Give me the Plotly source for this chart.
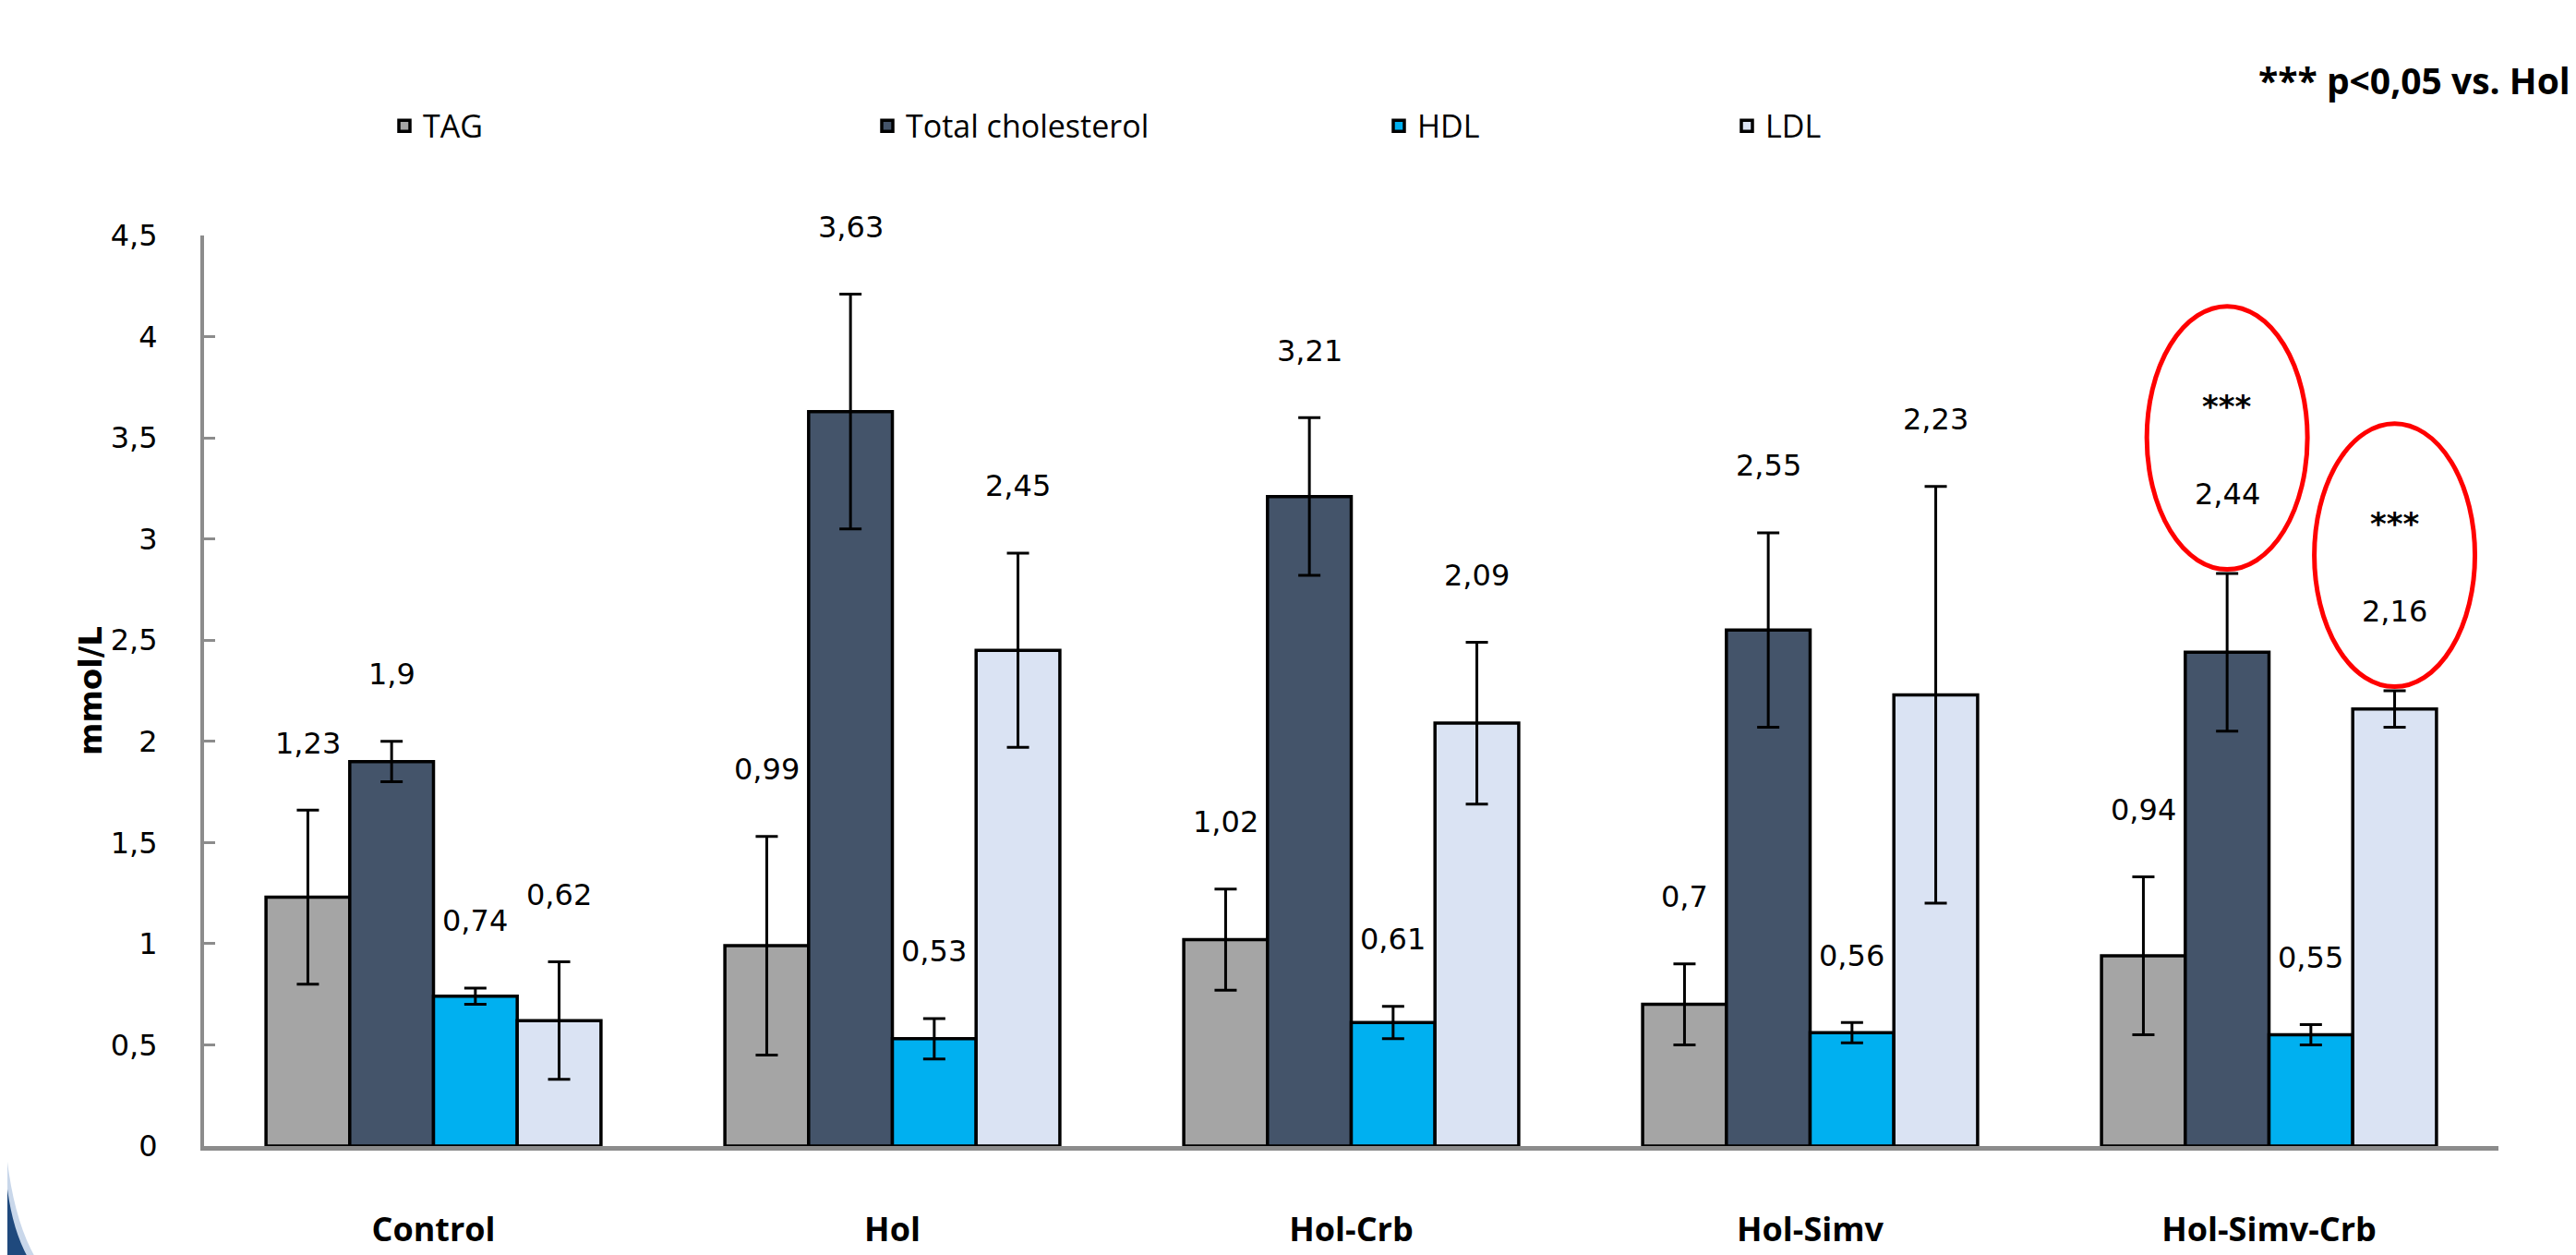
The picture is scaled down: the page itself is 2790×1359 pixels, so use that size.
import plotly.graph_objects as go

# ---------------- data ----------------
categories = ["Control", "Hol", "Hol-Crb", "Hol-Simv", "Hol-Simv-Crb"]
series_names = ["TAG", "Total cholesterol", "HDL", "LDL"]

tag = [1.23, 0.99, 1.02, 0.70, 0.94]
tag_err = [0.43, 0.54, 0.25, 0.20, 0.39]

total_chol = [1.90, 3.63, 3.21, 2.55, 2.44]
total_chol_err = [0.10, 0.58, 0.39, 0.48, 0.39]

hdl = [0.74, 0.53, 0.61, 0.56, 0.55]
hdl_err = [0.04, 0.10, 0.08, 0.05, 0.05]

ldl = [0.62, 2.45, 2.09, 2.23, 2.16]
ldl_err = [0.29, 0.48, 0.40, 1.03, 0.09]

y_ticks = [0, 0.5, 1, 1.5, 2, 2.5, 3, 3.5, 4, 4.5]

# significance marks: (category index, series index)
significant = [(4, 1), (4, 3)]
sig_mark = "***"
footnote = "*** p<0,05 vs. Hol"
y_title = "mmol/L"

# ---------------- style ----------------
colors = ["#a5a5a5", "#44546a", "#00b0f0", "#dae3f3"]
W, H = 2790, 1359
L, R, T, B = 213, 92, 247, 121
Y_MAX = 4.5
BARGAP = 0.27
LABEL_FONT = "DejaVu Sans"
TEXT_FONT = "Open Sans"
PX_PER_UNIT = (H - T - B) / Y_MAX


def paper_x(px):
    return (px - L) / (W - L - R)


def paper_y(py):
    return (H - B - py) / (H - T - B)


def fmt(v):
    return f"{v:g}".replace(".", ",")


values = [tag, total_chol, hdl, ldl]
errors = [tag_err, total_chol_err, hdl_err, ldl_err]
legend_ids = ["legend", "legend2", "legend3", "legend4"]
legend_marker_px = [432, 955, 1509, 1886]

fig = go.Figure()
for s, name in enumerate(series_names):
    fig.add_trace(go.Bar(
        x=categories, y=values[s], name=name,
        marker=dict(color=colors[s], line=dict(color="black", width=3.5)),
        error_y=dict(type="data", array=errors[s], color="black",
                     thickness=3, width=12),
        legend=legend_ids[s],
    ))

bw = (1 - BARGAP) / len(series_names)
annotations = []
shapes = []
label_font = dict(family=LABEL_FONT, size=32, color="black")
for s in range(len(series_names)):
    off = (s - (len(series_names) - 1) / 2) * bw
    for c in range(len(categories)):
        v, e = values[s][c], errors[s][c]
        xc = c + off
        top = v + e
        if (c, s) in significant:
            base = top + 0.02
            shapes.append(dict(type="circle", xref="x", yref="y",
                               x0=xc - 0.175, x1=xc + 0.175,
                               y0=base, y1=base + 1.3,
                               line=dict(color="#ff0000", width=5)))
            annotations.append(dict(x=xc, y=top, xref="x", yref="y",
                                    yshift=(0.39) * PX_PER_UNIT,
                                    text=fmt(v), showarrow=False, font=label_font))
            annotations.append(dict(x=xc, y=top, xref="x", yref="y",
                                    yshift=(0.82) * PX_PER_UNIT,
                                    text=f"<b>{sig_mark}</b>", showarrow=False,
                                    font=dict(family=LABEL_FONT, size=34, color="black")))
        else:
            annotations.append(dict(x=xc, y=top, xref="x", yref="y",
                                    yshift=0.33 * PX_PER_UNIT,
                                    text=fmt(v), showarrow=False, font=label_font))

# axis title and footnote
annotations.append(dict(x=paper_x(68), y=0.5, xref="paper", yref="paper",
                        text=f"<b>{y_title}</b>", textangle=-90, showarrow=False,
                        font=dict(family=LABEL_FONT, size=34, color="black")))
annotations.append(dict(x=paper_x(2778), y=paper_y(78), xref="paper", yref="paper",
                        xanchor="right", yanchor="middle",
                        text=f"<b>{footnote}</b>", showarrow=False,
                        font=dict(family=TEXT_FONT, size=39, color="black")))

# slide decoration corners (navy arcs)
shapes.append(dict(type="path", xref="paper", yref="paper",
                   path=f"M {paper_x(0)} {paper_y(1255)} Q {paper_x(8)} {paper_y(1320)} {paper_x(30)} {paper_y(1359)} "
                        f"L {paper_x(0)} {paper_y(1359)} Z",
                   fillcolor="#c9d7ea", line=dict(width=0), layer="above"))
shapes.append(dict(type="path", xref="paper", yref="paper",
                   path=f"M {paper_x(0)} {paper_y(1285)} Q {paper_x(6)} {paper_y(1330)} {paper_x(22)} {paper_y(1359)} "
                        f"L {paper_x(0)} {paper_y(1359)} Z",
                   fillcolor="#1f497d", line=dict(width=0), layer="above"))
shapes.append(dict(type="path", xref="paper", yref="paper",
                   path=f"M {paper_x(2790)} {paper_y(1325)} L {paper_x(2778)} {paper_y(1359)} "
                        f"L {paper_x(2790)} {paper_y(1359)} Z",
                   fillcolor="#1f497d", line=dict(width=0), layer="above"))

legend_common = dict(orientation="h", yanchor="middle", xanchor="left",
                     bgcolor="rgba(0,0,0,0)", itemwidth=30,
                     font=dict(family=TEXT_FONT, size=34, color="black"))
layout_legends = {}
for s, lid in enumerate(legend_ids):
    layout_legends[lid] = dict(x=paper_x(legend_marker_px[s] - 22), y=paper_y(128),
                               **legend_common)

fig.update_layout(
    width=W, height=H,
    margin=dict(l=L, r=R, t=T, b=B, pad=0),
    paper_bgcolor="white", plot_bgcolor="white",
    barmode="group", bargap=BARGAP, bargroupgap=0,
    separators=",.",
    showlegend=True,
    annotations=annotations,
    shapes=shapes,
    **layout_legends,
)
fig.update_xaxes(
    type="category", showline=True, linecolor="#8c8c8c", linewidth=5,
    ticks="", showgrid=False, zeroline=False,
    tickfont=dict(family=TEXT_FONT, size=36, color="black"),
    ticklabelstandoff=55,
    tickvals=categories,
    ticktext=[f"<b>{c}</b>" for c in categories],
)
fig.update_yaxes(
    range=[0, Y_MAX], tickvals=y_ticks, showline=True, linecolor="#8c8c8c",
    linewidth=4, ticks="inside", ticklen=12, tickwidth=3, tickcolor="#8c8c8c",
    showgrid=False, zeroline=False, ticklabelstandoff=40,
    tickfont=dict(family=LABEL_FONT, size=32, color="black"),
)

fig.write_html("out.html")
